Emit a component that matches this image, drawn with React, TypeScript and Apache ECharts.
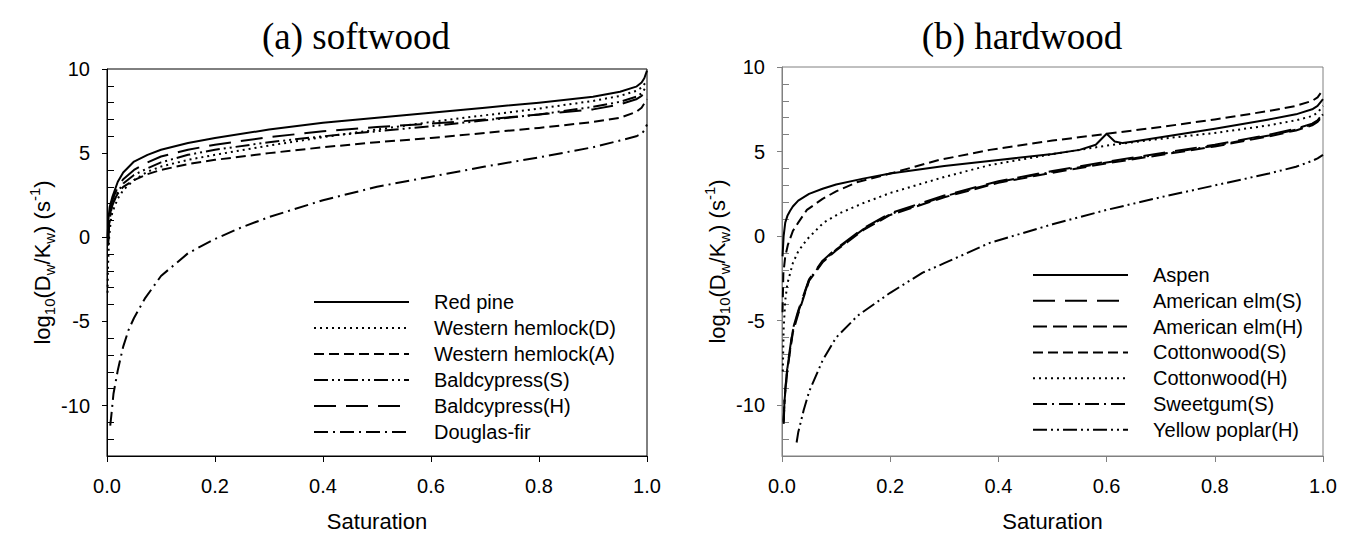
import React, { useEffect, useRef } from 'react';
import * as echarts from 'echarts';

// ---- axis ticks ----
const xTicks = [0, 0.2, 0.4, 0.6, 0.8, 1.0];
const yMajorTicks = [-10, -5, 0, 5, 10];
const yMinorTicks = [-12, -11, -9, -8, -7, -6, -4, -3, -2, -1, 1, 2, 3, 4, 6, 7, 8, 9];

// ---- (a) softwood ----
const softwoodNames = ['Red pine', 'Western hemlock(D)', 'Western hemlock(A)', 'Baldcypress(S)', 'Baldcypress(H)', 'Douglas-fir'];
const redPine = [[0.001, 0], [0.003, 1.2], [0.005, 1.8], [0.01, 2.4], [0.02, 3.3], [0.03, 3.85], [0.05, 4.5], [0.075, 4.9], [0.1, 5.2], [0.15, 5.6], [0.2, 5.9], [0.3, 6.4], [0.4, 6.8], [0.5, 7.1], [0.6, 7.4], [0.7, 7.7], [0.8, 8.0], [0.9, 8.35], [0.95, 8.65], [0.98, 8.95], [0.99, 9.2], [0.995, 9.45], [1, 9.9]];
const westernHemlockD = [[0.001, -3.3], [0.002, -1.6], [0.004, 0], [0.007, 1.0], [0.01, 1.5], [0.02, 2.3], [0.03, 2.8], [0.05, 3.4], [0.075, 3.9], [0.1, 4.2], [0.15, 4.6], [0.2, 4.9], [0.3, 5.45], [0.4, 5.95], [0.5, 6.4], [0.6, 6.85], [0.7, 7.25], [0.8, 7.65], [0.9, 8.1], [0.95, 8.4], [0.98, 8.7], [0.99, 8.9], [1, 9.3]];
const westernHemlockA = [[0.002, -0.5], [0.004, 0.8], [0.007, 1.6], [0.01, 2.0], [0.02, 2.6], [0.03, 3.0], [0.05, 3.4], [0.075, 3.75], [0.1, 4.0], [0.15, 4.35], [0.2, 4.6], [0.3, 5.0], [0.4, 5.35], [0.5, 5.65], [0.6, 5.9], [0.7, 6.2], [0.8, 6.5], [0.9, 6.85], [0.95, 7.1], [0.98, 7.45], [0.99, 7.7], [1, 8.2]];
const baldcypressS = [[0.002, -0.2], [0.004, 0.8], [0.007, 1.5], [0.01, 1.9], [0.02, 2.7], [0.03, 3.2], [0.05, 3.7], [0.075, 4.1], [0.1, 4.45], [0.15, 4.9], [0.2, 5.2], [0.3, 5.65], [0.4, 6.0], [0.5, 6.3], [0.6, 6.6], [0.7, 6.95], [0.8, 7.3], [0.9, 7.75], [0.95, 8.05], [0.98, 8.35], [0.99, 8.55], [1, 9.0]];
const baldcypressH = [[0.002, -0.3], [0.004, 1.0], [0.007, 1.8], [0.01, 2.2], [0.02, 3.0], [0.03, 3.45], [0.05, 4.0], [0.075, 4.45], [0.1, 4.8], [0.15, 5.2], [0.2, 5.5], [0.3, 5.95], [0.4, 6.3], [0.5, 6.55], [0.6, 6.75], [0.7, 7.0], [0.8, 7.3], [0.9, 7.6], [0.95, 7.9], [0.98, 8.2], [0.99, 8.4], [1, 8.8]];
const douglasFir = [[0.006, -11.2], [0.008, -10.6], [0.012, -9.3], [0.02, -7.9], [0.03, -6.5], [0.04, -5.5], [0.05, -4.8], [0.07, -3.65], [0.1, -2.3], [0.15, -0.95], [0.2, -0.1], [0.25, 0.6], [0.3, 1.2], [0.4, 2.2], [0.5, 3.0], [0.6, 3.6], [0.7, 4.2], [0.8, 4.75], [0.9, 5.35], [0.95, 5.75], [0.98, 6.0], [0.99, 6.15], [0.995, 6.35], [1, 6.7]];

// ---- (b) hardwood ----
const hardwoodNames = ['Aspen', 'American elm(S)', 'American elm(H)', 'Cottonwood(S)', 'Cottonwood(H)', 'Sweetgum(S)', 'Yellow poplar(H)'];
const aspen = [[0.001, -1.2], [0.003, 0], [0.006, 0.8], [0.01, 1.2], [0.015, 1.5], [0.02, 1.75], [0.03, 2.1], [0.05, 2.5], [0.075, 2.8], [0.1, 3.05], [0.15, 3.4], [0.2, 3.7], [0.3, 4.15], [0.4, 4.5], [0.5, 4.85], [0.55, 5.1], [0.58, 5.4], [0.6, 6.05], [0.615, 5.6], [0.63, 5.5], [0.65, 5.6], [0.7, 5.85], [0.8, 6.35], [0.9, 6.9], [0.95, 7.2], [0.98, 7.5], [0.99, 7.7], [1, 8.1]];
const americanElmS = [[0.003, -11.0], [0.005, -9.4], [0.01, -7.7], [0.02, -5.5], [0.03, -4.4], [0.05, -2.55], [0.075, -1.45], [0.1, -0.75], [0.15, 0.45], [0.2, 1.35], [0.3, 2.4], [0.4, 3.25], [0.5, 3.85], [0.6, 4.4], [0.7, 4.9], [0.8, 5.4], [0.9, 6.0], [0.95, 6.35], [0.98, 6.65], [0.99, 6.85], [1, 7.25]];
const americanElmH = [[0.003, -11.1], [0.005, -9.6], [0.01, -7.9], [0.02, -5.7], [0.03, -4.6], [0.05, -2.65], [0.075, -1.55], [0.1, -0.85], [0.15, 0.35], [0.2, 1.25], [0.3, 2.3], [0.4, 3.15], [0.5, 3.75], [0.6, 4.3], [0.7, 4.8], [0.8, 5.3], [0.9, 5.9], [0.95, 6.25], [0.98, 6.55], [0.99, 6.75], [1, 7.15]];
const cottonwoodS = [[0.001, -4.5], [0.0025, -2.2], [0.006, -1.2], [0.011, -0.5], [0.02, 0.3], [0.03, 0.8], [0.046, 1.55], [0.075, 2.2], [0.1, 2.65], [0.14, 3.2], [0.2, 3.7], [0.29, 4.5], [0.384, 5.1], [0.5, 5.65], [0.6, 6.05], [0.7, 6.45], [0.8, 6.9], [0.9, 7.4], [0.95, 7.7], [0.98, 8.0], [0.99, 8.2], [1, 8.65]];
const cottonwoodH = [[0.0015, -8.0], [0.003, -5.5], [0.006, -3.8], [0.01, -2.8], [0.02, -1.6], [0.03, -0.9], [0.046, -0.2], [0.077, 0.8], [0.108, 1.37], [0.15, 1.95], [0.2, 2.55], [0.3, 3.5], [0.384, 4.2], [0.5, 4.85], [0.6, 5.35], [0.7, 5.75], [0.8, 6.1], [0.9, 6.55], [0.95, 6.85], [0.98, 7.1], [0.99, 7.3], [1, 7.7]];
const sweetgumS = [[0.003, -10.9], [0.005, -9.5], [0.01, -7.8], [0.02, -5.6], [0.03, -4.5], [0.05, -2.6], [0.075, -1.5], [0.1, -0.8], [0.15, 0.4], [0.2, 1.3], [0.3, 2.35], [0.4, 3.2], [0.5, 3.8], [0.6, 4.35], [0.7, 4.85], [0.8, 5.35], [0.9, 5.95], [0.95, 6.3], [0.98, 6.6], [0.99, 6.8], [1, 7.2]];
const yellowPoplarH = [[0.027, -12.2], [0.03, -11.6], [0.04, -10.3], [0.05, -9.2], [0.075, -7.35], [0.1, -6.0], [0.14, -4.7], [0.2, -3.35], [0.26, -2.16], [0.3, -1.6], [0.384, -0.4], [0.5, 0.7], [0.6, 1.55], [0.7, 2.3], [0.8, 3.0], [0.9, 3.7], [0.95, 4.1], [0.98, 4.45], [0.99, 4.6], [1, 4.8]];

// ---- dash styles ----
const SOLID: any = 'solid';
const DOT = [2, 4];
const SHORT_DASH = [10, 5];
const MED_DASH = [14, 6];
const LONG_DASH = [22, 10];
const DASH_DOT = [14, 5, 2, 5];
const DASH_DOT_DOT = [14, 4, 2, 4, 2, 4];

const FONT = 'Liberation Sans';

function mkSeries(name: string, data: number[][], dash: any, axis: number) {
  return {
    name,
    type: 'line',
    data,
    xAxisIndex: axis,
    yAxisIndex: axis * 2,
    symbol: 'none',
    showSymbol: false,
    smooth: false,
    lineStyle: { color: '#000', width: 2, type: dash, join: 'round' },
    itemStyle: { color: '#000' },
    emphasis: { disabled: true },
  };
}

function xAxisDef(grid: number, color: string) {
  return {
    type: 'value',
    gridIndex: grid,
    min: 0,
    max: 1,
    interval: 0.2,
    name: 'Saturation',
    nameLocation: 'middle',
    nameGap: 54,
    nameTextStyle: { fontFamily: FONT, fontSize: 22, color: '#000' },
    axisLine: { show: true, onZero: false, lineStyle: { color, width: 1 } },
    axisTick: { show: true, inside: false, length: 6, lineStyle: { color }, customValues: xTicks },
    axisLabel: { fontFamily: FONT, fontSize: 20, color: '#000', margin: 20, customValues: xTicks, formatter: (v: number) => v.toFixed(1) },
    splitLine: { show: false },
  };
}

const yName = '{n|log}{s|10}{n|(D}{s|w}{n|/K}{s|w}{n|) (s}{p|-1}{n|)}';

function yAxesDef(grid: number, color: string) {
  return [
    {
      type: 'value',
      gridIndex: grid,
      min: -13,
      max: 10,
      name: yName,
      nameLocation: 'middle',
      nameRotate: 90,
      nameGap: 43,
      nameTextStyle: {
        fontFamily: FONT,
        fontSize: 22,
        color: '#000',
        rich: {
          n: { fontFamily: FONT, fontSize: 22, lineHeight: 30, color: '#000' },
          s: { fontFamily: FONT, fontSize: 15, lineHeight: 15, verticalAlign: 'bottom', color: '#000' },
          p: { fontFamily: FONT, fontSize: 15, lineHeight: 15, verticalAlign: 'top', color: '#000' },
        },
      },
      axisLine: { show: true, onZero: false, lineStyle: { color, width: 1 } },
      axisTick: { show: true, inside: false, length: 5, lineStyle: { color }, customValues: yMajorTicks },
      axisLabel: { fontFamily: FONT, fontSize: 20, color: '#000', margin: 17, customValues: yMajorTicks },
      splitLine: { show: false },
    },
    {
      type: 'value',
      gridIndex: grid,
      min: -13,
      max: 10,
      position: 'left',
      axisLine: { show: false, onZero: false },
      axisTick: { show: true, inside: true, length: 7, lineStyle: { color }, customValues: yMinorTicks },
      axisLabel: { show: false },
      splitLine: { show: false },
    },
  ];
}

function legendDef(names: string[], left: number, top: number, gap: number) {
  return {
    data: names,
    orient: 'vertical',
    left,
    top,
    padding: 0,
    itemWidth: 95,
    itemHeight: 14,
    itemGap: gap,
    selectedMode: false,
    itemStyle: { opacity: 0 },
    textStyle: { fontFamily: FONT, fontSize: 20, lineHeight: 20, color: '#000', padding: [0, 0, 0, 20] },
  };
}

const LEFT_AXIS = '#000';
const RIGHT_AXIS = '#808080';

const option: any = {
  animation: false,
  backgroundColor: '#fff',
  graphic: [
    { type: 'text', x: 356, y: 36, style: { text: '(a) softwood', fontFamily: 'Liberation Serif', fontSize: 37, fill: '#000', textAlign: 'center', textVerticalAlign: 'middle', verticalAlign: 'middle' } },
    { type: 'text', x: 1022, y: 36, style: { text: '(b) hardwood', fontFamily: 'Liberation Serif', fontSize: 37, fill: '#000', textAlign: 'center', textVerticalAlign: 'middle', verticalAlign: 'middle' } },
  ],
  grid: [
    { left: 107, top: 69, width: 540, height: 388, show: true, borderColor: LEFT_AXIS, borderWidth: 1, backgroundColor: 'transparent' },
    { left: 782, top: 67, width: 541, height: 391, show: true, borderColor: RIGHT_AXIS, borderWidth: 1, backgroundColor: 'transparent' },
  ],
  xAxis: [xAxisDef(0, LEFT_AXIS), xAxisDef(1, RIGHT_AXIS)],
  yAxis: [...yAxesDef(0, LEFT_AXIS), ...yAxesDef(1, RIGHT_AXIS)],
  legend: [legendDef(softwoodNames, 313, 292, 6), legendDef(hardwoodNames, 1032, 265, 5.8)],
  series: [
    mkSeries(softwoodNames[0], redPine, SOLID, 0),
    mkSeries(softwoodNames[1], westernHemlockD, DOT, 0),
    mkSeries(softwoodNames[2], westernHemlockA, SHORT_DASH, 0),
    mkSeries(softwoodNames[3], baldcypressS, DASH_DOT_DOT, 0),
    mkSeries(softwoodNames[4], baldcypressH, LONG_DASH, 0),
    mkSeries(softwoodNames[5], douglasFir, DASH_DOT, 0),
    mkSeries(hardwoodNames[0], aspen, SOLID, 1),
    mkSeries(hardwoodNames[1], americanElmS, LONG_DASH, 1),
    mkSeries(hardwoodNames[2], americanElmH, MED_DASH, 1),
    mkSeries(hardwoodNames[3], cottonwoodS, SHORT_DASH, 1),
    mkSeries(hardwoodNames[4], cottonwoodH, DOT, 1),
    mkSeries(hardwoodNames[5], sweetgumS, DASH_DOT, 1),
    mkSeries(hardwoodNames[6], yellowPoplarH, DASH_DOT_DOT, 1),
  ],
};

export default function App() {
  const ref = useRef<HTMLDivElement>(null);
  useEffect(() => {
    if (!ref.current) return;
    const chart = echarts.init(ref.current, null, { renderer: 'svg' });
    chart.setOption(option);
    return () => chart.dispose();
  }, []);
  return <div ref={ref} style={{ position: 'fixed', left: 0, top: 0, width: 1352, height: 537, background: '#fff' }} />;
}
